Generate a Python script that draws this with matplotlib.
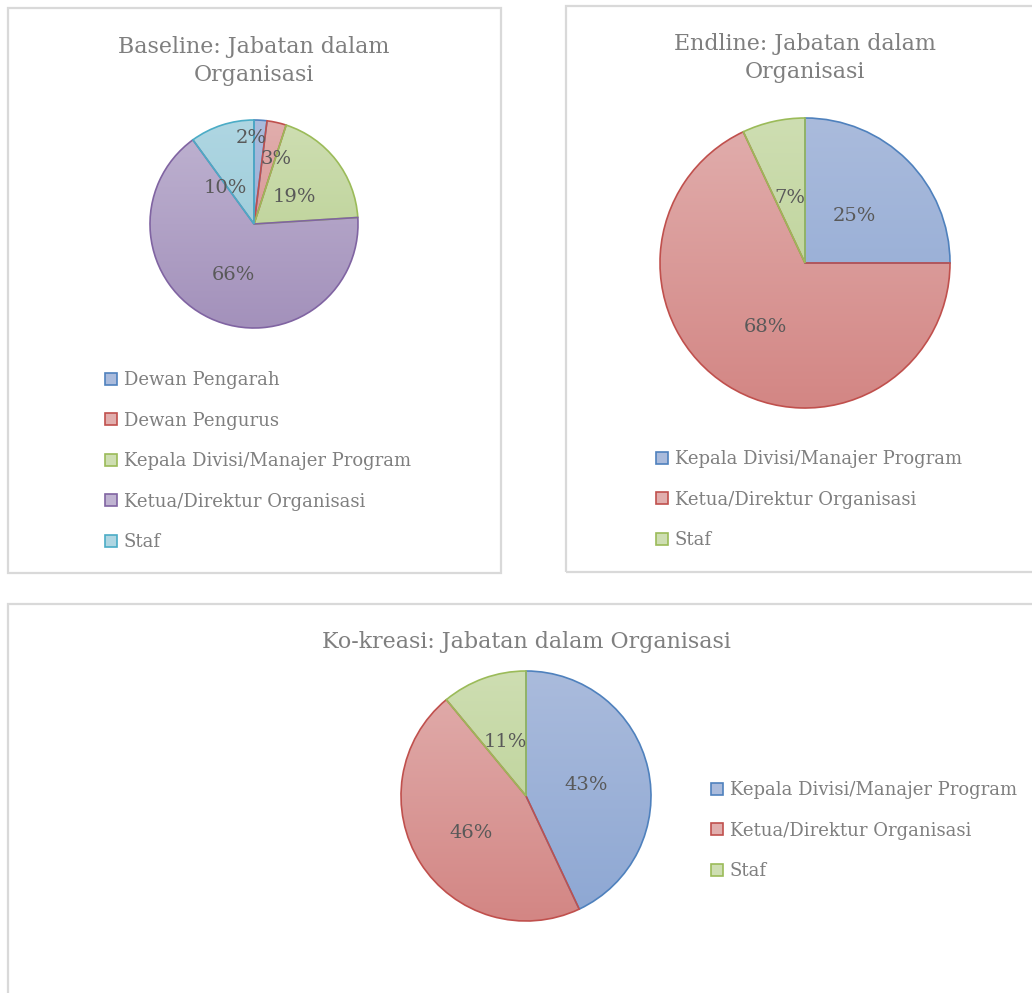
import numpy as np
import matplotlib
matplotlib.use("Agg")
import matplotlib.pyplot as plt
from matplotlib.patches import Patch, Rectangle
from matplotlib.colors import LinearSegmentedColormap

# data
base_labels = ["Dewan Pengarah", "Dewan Pengurus", "Kepala Divisi/Manajer Program",
               "Ketua/Direktur Organisasi", "Staf"]
base_values = [2, 3, 19, 66, 10]

end_labels = ["Kepala Divisi/Manajer Program", "Ketua/Direktur Organisasi", "Staf"]
end_values = [25, 68, 7]

kok_labels = ["Kepala Divisi/Manajer Program", "Ketua/Direktur Organisasi", "Staf"]
kok_values = [43, 46, 11]

# colours per category: edge, top of gradient, bottom of gradient
warna = {
    "Dewan Pengarah": ("#4F81BD", "#AABBDC", "#8DA7D3"),
    "Dewan Pengurus": ("#C0504D", "#E1AEAD", "#D38684"),
    "Kepala Divisi/Manajer Program": ("#9BBB59", "#CEDEB2", "#B5CD8C"),
    "Ketua/Direktur Organisasi": ("#8064A2", "#BFB3D1", "#A391BB"),
    "Staf": ("#4BACC6", "#AFD6E2", "#93C7D6"),
}
# the two later charts reuse the first three palette colours
warna_end = {
    "Kepala Divisi/Manajer Program": warna["Dewan Pengarah"],
    "Ketua/Direktur Organisasi": warna["Dewan Pengurus"],
    "Staf": warna["Kepala Divisi/Manajer Program"],
}

W, H = 1032, 993
FONT = "DejaVu Serif"
JUDUL = "#7F7F7F"
LABEL = "#595959"

fig = plt.figure(figsize=(W / 100, H / 100), dpi=100)


def fx(x):
    return x / W


def fy(y):
    return 1 - y / H


def panel(x0, y0, x1, y1):
    r = Rectangle((fx(x0), fy(y1)), fx(x1 - x0), (y1 - y0) / H, transform=fig.transFigure,
                  fill=False, edgecolor="#D9D9D9", linewidth=1.6, clip_on=False)
    fig.patches.append(r)


def pie(cx, cy, r, labels, values, cols, dist, shift):
    m = 1.1
    ax = fig.add_axes([fx(cx - r * m), fy(cy + r * m), fx(2 * r * m), 2 * r * m / H])
    wedges, _ = ax.pie(values, startangle=90, counterclock=False, radius=1,
                       wedgeprops=dict(linewidth=1.2, zorder=3))
    grad = np.linspace(0, 1, 256).reshape(-1, 1)
    for w, lab in zip(wedges, labels):
        e, top, bot = cols[lab]
        w.set_facecolor("none")
        w.set_edgecolor(e)
        cmap = LinearSegmentedColormap.from_list(lab, [top, bot])
        im = ax.imshow(grad, extent=(-1, 1, -1, 1), cmap=cmap, origin="upper",
                       aspect="auto", zorder=1, interpolation="bilinear")
        im.set_clip_path(w)
    for w, v, d, s in zip(wedges, values, dist, shift):
        a = np.deg2rad((w.theta1 + w.theta2) / 2 + s)
        ax.text(d * np.cos(a), d * np.sin(a), f"{v}%", ha="center", va="center_baseline",
                fontsize=14, color=LABEL, family=FONT, zorder=5)
    ax.set_xlim(-m, m)
    ax.set_ylim(-m, m)
    ax.set_aspect("equal")
    ax.axis("off")
    return ax


def legenda(ax, x, y, labels, cols, spacing):
    h = [Patch(facecolor=cols[l][1], edgecolor=cols[l][0], linewidth=1.2) for l in labels]
    ax.legend(h, labels, loc="upper left", bbox_to_anchor=(fx(x), fy(y)),
              bbox_transform=fig.transFigure, frameon=False, borderpad=0, borderaxespad=0,
              handlelength=0.65, handleheight=0.65, handletextpad=0.4,
              labelspacing=spacing, prop=dict(family=FONT, size=13), labelcolor=JUDUL)


# panels
panel(8, 8, 501, 573)
panel(566, 6, 1045, 572)
panel(8, 604, 1045, 1005)

# Baseline
ax1 = pie(254, 224, 104, base_labels, base_values, warna,
          [0.85, 0.68, 0.475, 0.51, 0.46], [5.5, -5.6, -2, 2, 19])
fig.text(fx(254), fy(61), "Baseline: Jabatan dalam\nOrganisasi", ha="center", va="center",
         fontsize=15.9, color=JUDUL, family=FONT, linespacing=1.33)
legenda(ax1, 105, 371, base_labels, warna, 1.25)

# Endline
ax2 = pie(805, 263, 145, end_labels, end_values, warna_end, [0.48, 0.51, 0.47], [0, 0, 0])
fig.text(fx(805), fy(58), "Endline: Jabatan dalam\nOrganisasi", ha="center", va="center",
         fontsize=15.9, color=JUDUL, family=FONT, linespacing=1.36)
legenda(ax2, 656, 450, end_labels, warna_end, 1.25)

# Ko-kreasi
ax3 = pie(526, 796, 125, kok_labels, kok_values, warna_end, [0.49, 0.52, 0.48], [0, 0, 0])
fig.text(fx(526), fy(642), "Ko-kreasi: Jabatan dalam Organisasi", ha="center", va="center",
         fontsize=15.9, color=JUDUL, family=FONT)
legenda(ax3, 711, 781, kok_labels, warna_end, 1.25)

fig.savefig("out.png", dpi=100)
